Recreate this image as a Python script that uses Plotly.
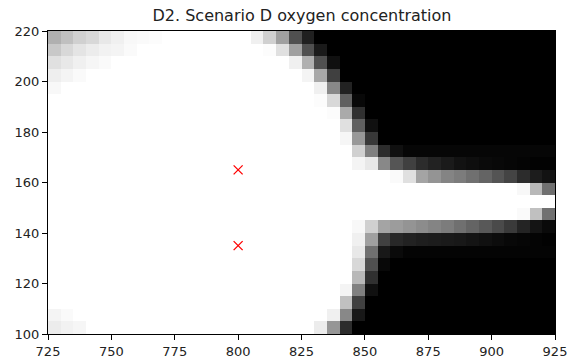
import numpy as np
import plotly.graph_objects as go

# Cell centres (5-unit grid)
x_centers = [727.5 + 5 * i for i in range(40)]
y_centers = [217.5 - 5 * k for k in range(24)]  # top row first

W = 255
# Gray level (0 = black / no oxygen, 255 = white / full) per row, top row first
row_215 = [176, 192, 208, 216, 232, 240, 248, 250, 252] + [W] * 7 + [240, 208, 160, 80, 32] + [0] * 19
row_210 = [200, 216, 228, 236, 242, 244, 250] + [W] * 10 + [252, 224, 160, 80, 26] + [0] * 18
row_205 = [224, 232, 240, 246, 250] + [W] * 14 + [240, 176, 80, 16] + [0] * 17
row_200 = [238, 244, 250] + [W] * 17 + [244, 168, 64] + [0] * 17
row_195 = [248] + [W] * 20 + [240, 136, 34] + [0] * 16
row_190 = [W] * 21 + [252, 216, 96, 8] + [0] * 15
row_185 = [W] * 22 + [252, 170, 48] + [0] * 15
row_180 = [W] * 23 + [224, 96, 16] + [0] * 14
row_175 = [W] * 23 + [246, 152, 56] + [0] * 14
row_170 = [W] * 24 + [208, 128, 44, 16] + [6] * 12
row_165 = [W] * 24 + [244, 232, 136, 85, 64, 44, 34, 26, 18, 14, 10, 8, 6, 4, 2, 2]
row_160 = [W] * 27 + [250, 224, 164, 148, 132, 124, 112, 100, 84, 68, 44, 28, 18]
row_155 = [W] * 37 + [248, 184, 112]
row_150 = [W] * 40
row_145 = [W] * 37 + [250, 192, 112]
row_140 = [W] * 24 + [248, 208, 164, 156, 148, 140, 132, 124, 112, 100, 88, 74, 58, 36, 20, 10]
row_135 = [W] * 24 + [240, 160, 64, 40, 34, 30, 28, 26, 24, 20, 16, 12, 8, 6, 4, 2]
row_130 = [W] * 24 + [232, 112, 24, 10] + [4] * 12
row_125 = [W] * 24 + [216, 80, 8] + [0] * 13
row_120 = [W] * 24 + [184, 48] + [0] * 14
row_115 = [W] * 23 + [244, 128, 16] + [0] * 14
row_110 = [W] * 23 + [192, 64] + [0] * 15
row_105 = [244, 250] + [W] * 20 + [240, 136, 24] + [0] * 15
row_100 = [236, 242, 246] + [W] * 18 + [236, 150, 44] + [0] * 16

rows = [row_215, row_210, row_205, row_200, row_195, row_190, row_185, row_180,
        row_175, row_170, row_165, row_160, row_155, row_150, row_145, row_140,
        row_135, row_130, row_125, row_120, row_115, row_110, row_105, row_100]
oxygen = np.array(rows, dtype=float) / 255.0

marker_x = [800, 800]
marker_y = [165, 135]

x_ticks = [725, 750, 775, 800, 825, 850, 875, 900, 925]
y_ticks = [100, 120, 140, 160, 180, 200, 220]

fig = go.Figure()
fig.add_trace(go.Heatmap(
    x=x_centers, y=y_centers, z=oxygen,
    colorscale=[[0, "black"], [1, "white"]], zmin=0, zmax=1,
    showscale=False, zsmooth=False, hoverinfo="skip"))
fig.add_trace(go.Scatter(
    x=marker_x, y=marker_y, mode="markers",
    marker=dict(symbol="x-thin", size=9, line=dict(color="red", width=1.3), color="red"),
    showlegend=False, hoverinfo="skip"))

axis_common = dict(showline=True, linecolor="black", linewidth=1, mirror=True,
                   ticks="outside", ticklen=5, tickcolor="black", showgrid=False,
                   zeroline=False, automargin=False,
                   tickfont=dict(family="DejaVu Sans", size=13, color="#222"))
fig.update_xaxes(range=[725, 925], tickvals=x_ticks, **axis_common)
fig.update_yaxes(range=[100, 220], tickvals=y_ticks, **axis_common)

fig.update_layout(
    width=575, height=364,
    margin=dict(l=47.5, r=19.5, t=30.5, b=29.5),
    paper_bgcolor="white", plot_bgcolor="white",
    title=dict(text="D2. Scenario D oxygen concentration", x=302 / 575, xanchor="center",
               y=1 - 15 / 364, yanchor="middle",
               font=dict(family="DejaVu Sans", size=16, color="#222")),
)
fig.write_html("out.html", config={"displayModeBar": False},
               post_script="document.body.style.margin='0';document.body.style.overflow='hidden';")
